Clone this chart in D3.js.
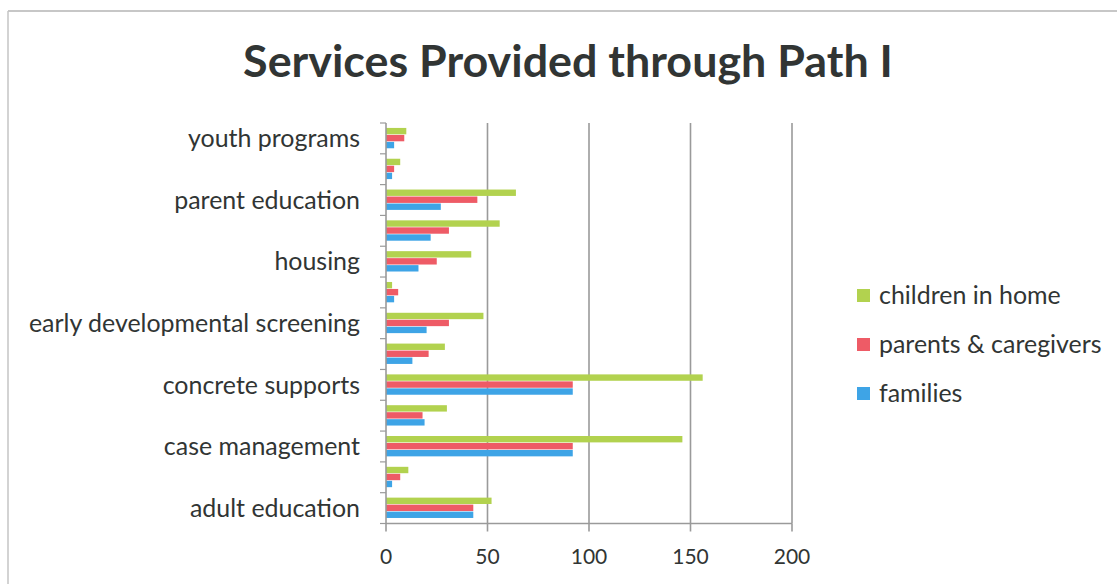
<!DOCTYPE html>
<html>
<head>
<meta charset="utf-8">
<script src="https://cdn.jsdelivr.net/npm/d3@7"></script>
<style>
  html, body { margin: 0; padding: 0; background: #fff; }
  svg { display: block; }
  text { font-family: "Lato", "Open Sans", sans-serif; fill: #313534; }
</style>
</head>
<body>
<svg id="chart" width="1117" height="584"></svg>
<script>
// Categories listed top to bottom; only every other one carries a visible label
const categories = [
  "youth programs", "", "parent education", "", "housing", "",
  "early developmental screening", "", "concrete supports", "",
  "case management", "", "adult education"
];
const childrenInHome     = [10, 7, 64, 56, 42, 3, 48, 29, 156, 30, 146, 11, 52];
const parentsCaregivers  = [9, 4, 45, 31, 25, 6, 31, 21, 92, 18, 92, 7, 43];
const families           = [4, 3, 27, 22, 16, 4, 20, 13, 92, 19, 92, 3, 43];
const seriesNames = ["children in home", "parents & caregivers", "families"];
const xTicks = [0, 50, 100, 150, 200];

const seriesValues = [childrenInHome, parentsCaregivers, families];
const colors = ["#b2d24f", "#ee5b66", "#3ea4e6"];

const svg = d3.select("#chart");

// outer frame (top and left edges visible)
svg.append("line").attr("x1", 8).attr("x2", 1117).attr("y1", 11).attr("y2", 11)
  .attr("stroke", "#b4b4b4").attr("stroke-width", 1.5);
svg.append("line").attr("x1", 8).attr("x2", 8).attr("y1", 11).attr("y2", 584)
  .attr("stroke", "#c4c4c4").attr("stroke-width", 1.5);

const plot = { left: 386, right: 792, top: 123, bottom: 523.5 };

const x = d3.scaleLinear().domain([0, 200]).range([plot.left, plot.right]);
const y = d3.scaleBand().domain(d3.range(categories.length))
  .range([plot.top, plot.bottom]).paddingInner(0.32).paddingOuter(0.16);
const ySeries = d3.scaleBand().domain(d3.range(seriesNames.length))
  .range([0, y.bandwidth()]);

// vertical gridlines
svg.append("g").selectAll("line").data(xTicks.slice(1)).join("line")
  .attr("x1", d => x(d)).attr("x2", d => x(d))
  .attr("y1", plot.top).attr("y2", plot.bottom)
  .attr("stroke", "#9a9a9a").attr("stroke-width", 1.6);

// bars
const rows = svg.append("g").selectAll("g").data(categories).join("g")
  .attr("transform", (d, i) => `translate(0,${y(i)})`);
rows.each(function(d, i) {
  d3.select(this).selectAll("rect").data(seriesValues.map(s => s[i])).join("rect")
    .attr("x", x(0))
    .attr("y", (v, s) => ySeries(s))
    .attr("width", v => x(v) - x(0))
    .attr("height", ySeries.bandwidth() - 0.6)
    .attr("fill", (v, s) => colors[s]);
});

// category axis
const yAxis = svg.append("g").attr("transform", `translate(${plot.left},0)`);
const boundaries = d3.range(categories.length + 1).map(i => plot.top + i * (plot.bottom - plot.top) / categories.length);
yAxis.append("line").attr("x1", 0).attr("x2", 0).attr("y1", plot.top).attr("y2", plot.bottom)
  .attr("stroke", "#9a9a9a").attr("stroke-width", 1.6);
yAxis.selectAll("line.tk").data(boundaries).join("line").attr("class", "tk")
  .attr("x1", -6).attr("x2", 0).attr("y1", d => d).attr("y2", d => d)
  .attr("stroke", "#9a9a9a").attr("stroke-width", 1.2);
const catLabels = yAxis.selectAll("text").data(categories).join("text")
  .attr("x", -26)
  .attr("y", (d, i) => y(i) + y.bandwidth() / 2)
  .attr("dy", "0.35em")
  .attr("text-anchor", "end")
  .attr("font-size", 20)
  .text(d => d);

// value axis
const xAxis = svg.append("g");
xAxis.append("line").attr("x1", plot.left).attr("x2", plot.right)
  .attr("y1", plot.bottom).attr("y2", plot.bottom)
  .attr("stroke", "#9a9a9a").attr("stroke-width", 1.6);
xAxis.selectAll("line.tk").data(xTicks).join("line").attr("class", "tk")
  .attr("x1", d => x(d)).attr("x2", d => x(d))
  .attr("y1", plot.bottom).attr("y2", plot.bottom + 8)
  .attr("stroke", "#9a9a9a").attr("stroke-width", 1.6);
xAxis.selectAll("text").data(xTicks).join("text")
  .attr("x", d => x(d)).attr("y", 557).attr("dy", "0.35em")
  .attr("text-anchor", "middle").attr("font-size", 21)
  .text(d => d);

// title, sized to span ~650px
const title = svg.append("text")
  .attr("x", 568).attr("y", 77)
  .attr("text-anchor", "middle")
  .attr("font-weight", "bold")
  .attr("font-size", 44)
  .text("Services Provided through Path I");
const tw = title.node().getComputedTextLength();
title.attr("font-size", 44 * 650 / tw);

// label size chosen so "youth programs" spans ~172px
const refW = catLabels.filter((d, i) => i === 0).node().getComputedTextLength();
const labelSize = 20 * 172 / refW;
catLabels.attr("font-size", labelSize);

// legend
const legend = svg.append("g");
const legendY = [295, 344, 393];
seriesNames.forEach((name, i) => {
  legend.append("rect").attr("x", 857).attr("y", legendY[i] - 6)
    .attr("width", 13).attr("height", 13).attr("fill", colors[i]);
  legend.append("text").attr("x", 879).attr("y", legendY[i]).attr("dy", "0.35em")
    .attr("font-size", labelSize).text(name);
});
</script>
</body>
</html>
